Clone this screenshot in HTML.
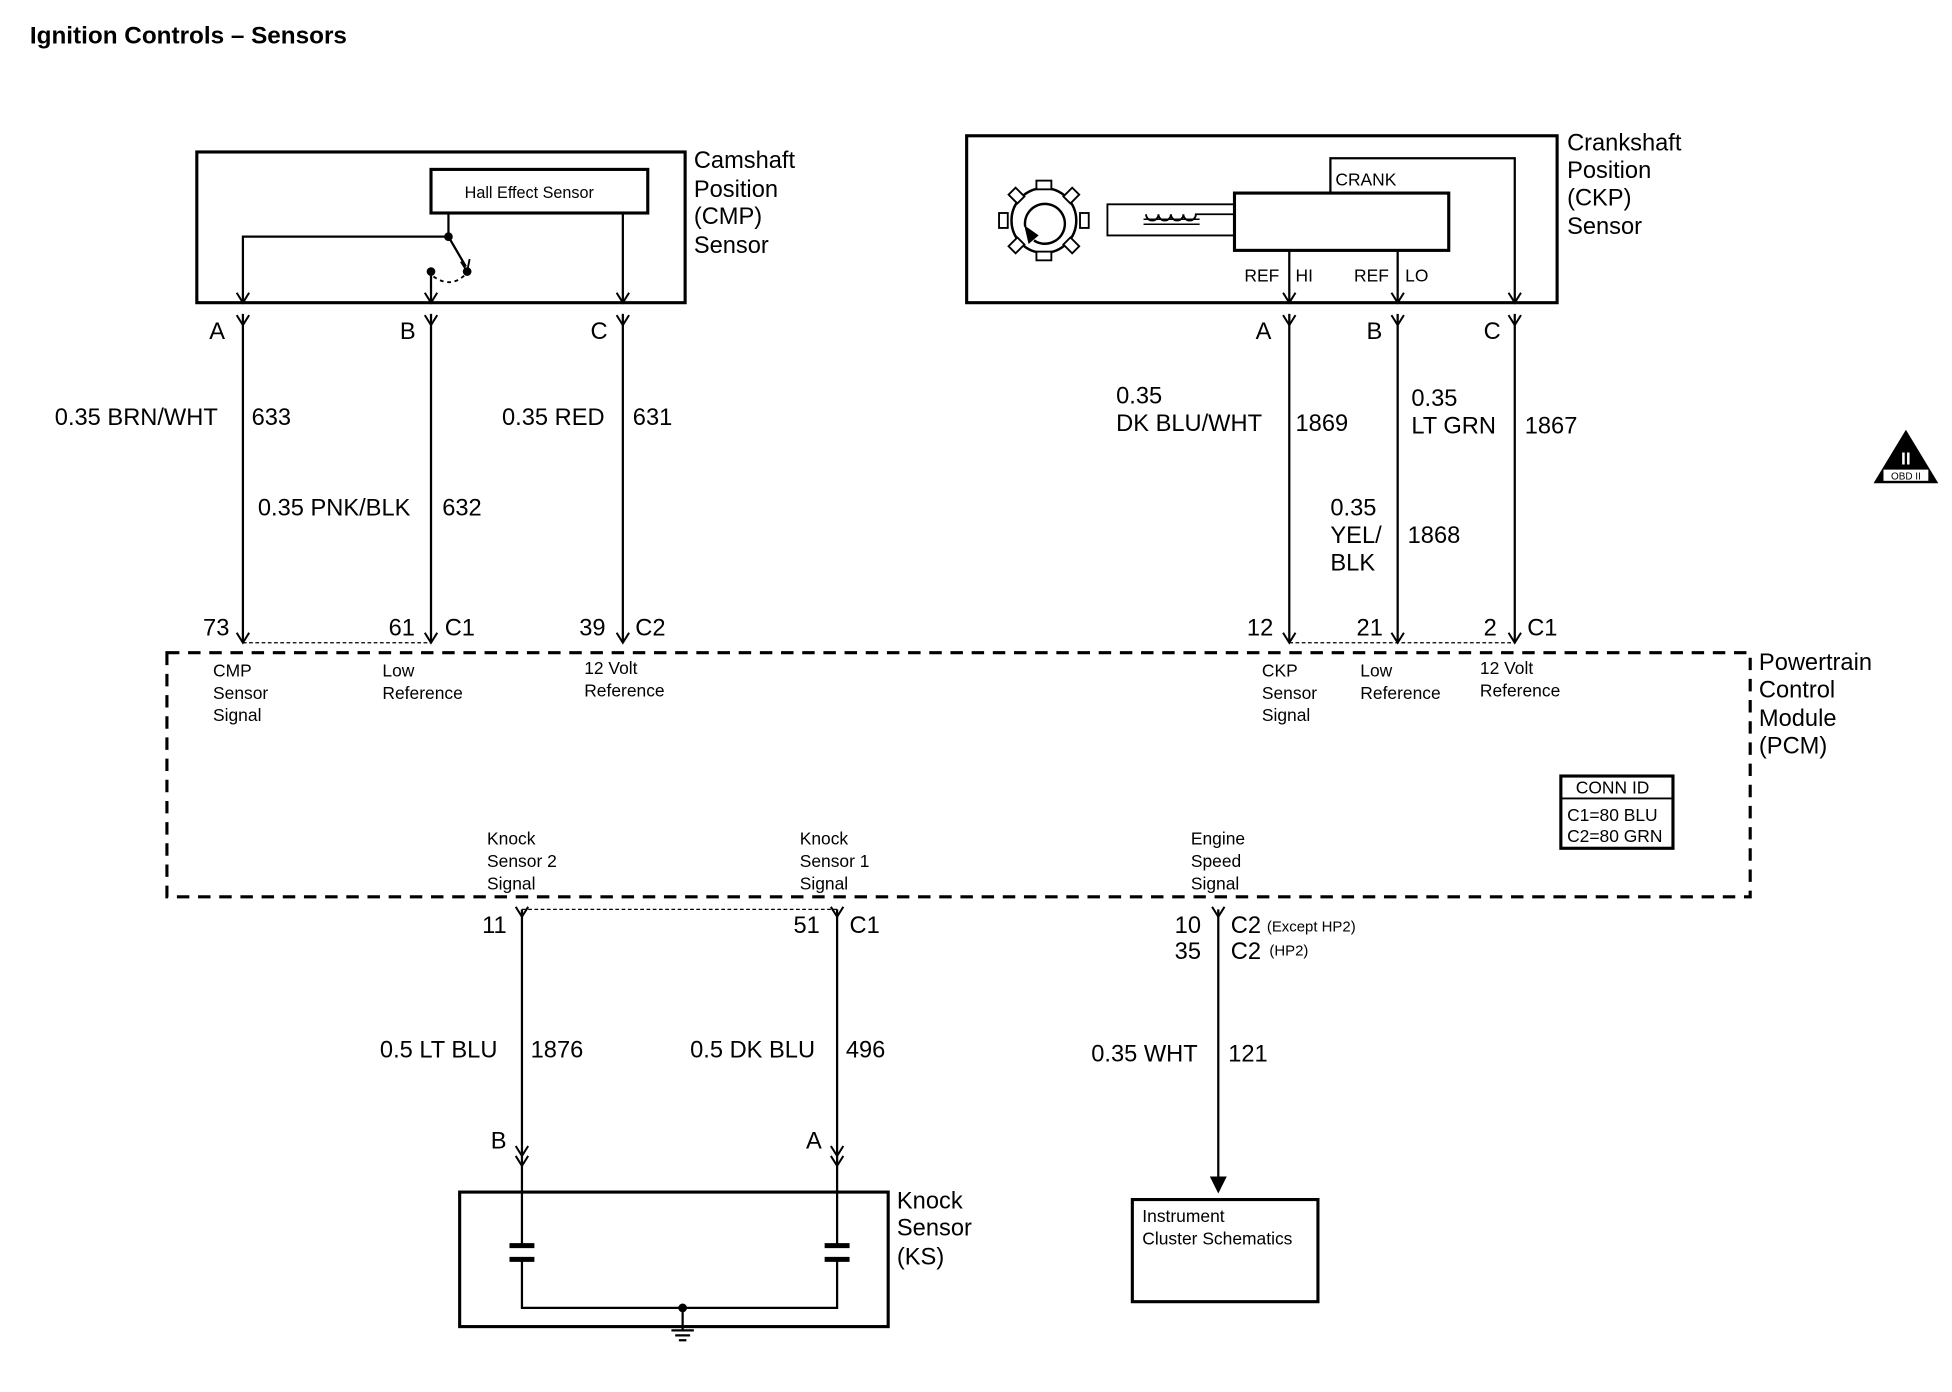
<!DOCTYPE html>
<html><head><style>html,body{margin:0;padding:0;background:#fff}svg{display:block}</style></head><body>
<svg width="1952" height="1392" viewBox="0 0 1567 1117.5" preserveAspectRatio="none" xmlns="http://www.w3.org/2000/svg" font-family="Liberation Sans, sans-serif" fill="none" stroke="#000">
<defs>
<g id="y"><path d="M-5,-6 L0,2 L5,-6" stroke-width="1.6"/></g>
</defs>
<text x="24" y="35" font-size="19.5" font-weight="bold" fill="#000" stroke="none">Ignition Controls – Sensors</text>

<!-- CMP sensor -->
<rect x="158" y="122" width="392" height="121" stroke-width="2.5"/>
<rect x="346" y="136" width="174" height="35" stroke-width="2.5"/>
<text x="373" y="159" font-size="13" fill="#000" stroke="none">Hall Effect Sensor</text>
<path d="M360,171 V190 H195 V243 M500,171 V243 M346,218 V243" stroke-width="1.8"/>
<path d="M360,190 L374,214" stroke-width="1.8"/>
<path d="M370,210 L375,218 L377,208" stroke-width="1.5"/>
<circle cx="360" cy="190" r="3" fill="#000"/><circle cx="375" cy="218" r="3" fill="#000"/><circle cx="346" cy="218" r="3" fill="#000"/>
<path d="M348,222 Q362,232 374,220" stroke-dasharray="3,3" stroke-width="1.5"/>
<use href="#y" x="195" y="241"/><use href="#y" x="346" y="241"/><use href="#y" x="500" y="241"/>
<g font-size="19" fill="#000" stroke="none">
<text x="557" y="135">Camshaft</text><text x="557" y="158">Position</text><text x="557" y="180">(CMP)</text><text x="557" y="203">Sensor</text>
<text x="168" y="272">A</text><text x="321" y="272">B</text><text x="474" y="272">C</text>
<text x="44" y="341">0.35 BRN/WHT</text><text x="202" y="341">633</text>
<text x="207" y="414">0.35 PNK/BLK</text><text x="355" y="414">632</text>
<text x="403" y="341">0.35 RED</text><text x="508" y="341">631</text>
<text x="163" y="510">73</text><text x="312" y="510">61</text><text x="357" y="510">C1</text>
<text x="465" y="510">39</text><text x="510" y="510">C2</text>
</g>
<path d="M195,252 V515 M346,252 V515 M500,252 V515" stroke-width="1.8"/>
<use href="#y" x="195" y="259"/><use href="#y" x="346" y="259"/><use href="#y" x="500" y="259"/>
<use href="#y" x="195" y="514"/><use href="#y" x="346" y="514"/><use href="#y" x="500" y="514"/>
<path d="M195,516 H346" stroke-dasharray="3,2" stroke-width="1"/>

<!-- CKP sensor -->
<rect x="776" y="109" width="474" height="134" stroke-width="2.5"/>
<rect x="991" y="155" width="172" height="46" stroke-width="2.5"/>
<path d="M1068,155 V127 H1216 V243 M1035,201 V243 M1122,201 V243" stroke-width="1.8"/>
<use href="#y" x="1035" y="241"/><use href="#y" x="1122" y="241"/><use href="#y" x="1216" y="241"/>
<path d="M991,164 H889 V189 H991" stroke-width="1.5"/>
<path d="M920,172 a5,5 0 0 0 10,0 a5,5 0 0 0 10,0 a5,5 0 0 0 10,0 a5,5 0 0 0 10,0 H991" stroke-width="1.5"/>
<path d="M918,176 H963 M918,180 H963" stroke-width="1.2"/>
<circle cx="838" cy="177" r="26" stroke-width="2"/>
<path d="M830,193 A16,16 0 1 0 823,182" stroke-width="2"/>
<path d="M823,182 L826,195 L833,189 Z" fill="#000"/>
<g stroke-width="1.5" fill="#fff">
<rect x="832" y="145" width="12" height="7"/><rect x="832" y="202" width="12" height="7"/>
<rect x="802" y="171" width="7" height="12"/><rect x="867" y="171" width="7" height="12"/>
<rect x="812" y="152" width="8" height="10" transform="rotate(-45 816 157)"/>
<rect x="856" y="152" width="8" height="10" transform="rotate(45 860 157)"/>
<rect x="812" y="192" width="8" height="10" transform="rotate(45 816 197)"/>
<rect x="856" y="192" width="8" height="10" transform="rotate(-45 860 197)"/>
</g>
<g font-size="14" fill="#000" stroke="none">
<text x="1072" y="149">CRANK</text>
<text x="999" y="226">REF</text><text x="1040" y="226">HI</text>
<text x="1087" y="226">REF</text><text x="1128" y="226">LO</text>
</g>
<g font-size="19" fill="#000" stroke="none">
<text x="1258" y="121">Crankshaft</text><text x="1258" y="143">Position</text><text x="1258" y="165">(CKP)</text><text x="1258" y="188">Sensor</text>
<text x="1008" y="272">A</text><text x="1097" y="272">B</text><text x="1191" y="272">C</text>
<text x="896" y="324">0.35</text><text x="896" y="346">DK BLU/WHT</text><text x="1040" y="346">1869</text>
<text x="1133" y="326">0.35</text><text x="1133" y="348">LT GRN</text><text x="1224" y="348">1867</text>
<text x="1068" y="414">0.35</text><text x="1068" y="436">YEL/</text><text x="1068" y="458">BLK</text><text x="1130" y="436">1868</text>
<text x="1001" y="510">12</text><text x="1089" y="510">21</text><text x="1191" y="510">2</text><text x="1226" y="510">C1</text>
</g>
<path d="M1035,252 V515 M1122,252 V515 M1216,252 V515" stroke-width="1.8"/>
<use href="#y" x="1035" y="259"/><use href="#y" x="1122" y="259"/><use href="#y" x="1216" y="259"/>
<use href="#y" x="1035" y="514"/><use href="#y" x="1122" y="514"/><use href="#y" x="1216" y="514"/>
<path d="M1035,516 H1216" stroke-dasharray="3,2" stroke-width="1"/>

<!-- OBD -->
<path d="M1530,345 L1504,388 H1556 Z" fill="#000" stroke="none"/>
<rect x="1512" y="377" width="36" height="9" fill="#fff" stroke="none"/>
<text x="1530" y="385" font-size="8" text-anchor="middle" fill="#000" stroke="none">OBD II</text>
<text x="1530" y="373" font-size="14" font-weight="bold" text-anchor="middle" fill="#fff" stroke="none">II</text>

<!-- PCM -->
<rect x="134" y="524" width="1271" height="196" stroke-width="2.5" stroke-dasharray="10,7"/>
<g font-size="14" fill="#000" stroke="none">
<text x="171" y="543">CMP</text><text x="171" y="561">Sensor</text><text x="171" y="579">Signal</text>
<text x="307" y="543">Low</text><text x="307" y="561">Reference</text>
<text x="469" y="541">12 Volt</text><text x="469" y="559">Reference</text>
<text x="1013" y="543">CKP</text><text x="1013" y="561">Sensor</text><text x="1013" y="579">Signal</text>
<text x="1092" y="543">Low</text><text x="1092" y="561">Reference</text>
<text x="1188" y="541">12 Volt</text><text x="1188" y="559">Reference</text>
<text x="391" y="678">Knock</text><text x="391" y="696">Sensor 2</text><text x="391" y="714">Signal</text>
<text x="642" y="678">Knock</text><text x="642" y="696">Sensor 1</text><text x="642" y="714">Signal</text>
<text x="956" y="678">Engine</text><text x="956" y="696">Speed</text><text x="956" y="714">Signal</text>
<text x="1265" y="637">CONN ID</text><text x="1258" y="659">C1=80 BLU</text><text x="1258" y="676">C2=80 GRN</text>
</g>
<rect x="1253" y="623" width="90" height="58" stroke-width="2.5"/>
<path d="M1253,641 H1343" stroke-width="1.5"/>
<g font-size="19" fill="#000" stroke="none">
<text x="1412" y="538">Powertrain</text><text x="1412" y="560">Control</text><text x="1412" y="583">Module</text><text x="1412" y="605">(PCM)</text>
<text x="387" y="749">11</text><text x="637" y="749">51</text><text x="682" y="749">C1</text>
<text x="943" y="749">10</text><text x="988" y="749">C2</text><text x="943" y="770">35</text><text x="988" y="770">C2</text>
<text x="305" y="849">0.5 LT BLU</text><text x="426" y="849">1876</text>
<text x="554" y="849">0.5 DK BLU</text><text x="679" y="849">496</text>
<text x="876" y="852">0.35 WHT</text><text x="986" y="852">121</text>
<text x="394" y="922">B</text><text x="647" y="922">A</text>
<text x="720" y="970">Knock</text><text x="720" y="992">Sensor</text><text x="720" y="1015">(KS)</text>
</g>
<g font-size="12" fill="#000" stroke="none"><text x="1017" y="748">(Except HP2)</text><text x="1019" y="767">(HP2)</text></g>

<!-- bottom wires -->
<path d="M419,730 V935 M672,730 V935 M978,730 V948" stroke-width="1.8"/>
<use href="#y" x="419" y="734"/><use href="#y" x="672" y="734"/><use href="#y" x="978" y="734"/>
<use href="#y" x="419" y="926"/><use href="#y" x="672" y="926"/>
<use href="#y" x="419" y="934"/><use href="#y" x="672" y="934"/>
<path d="M419,730 H672" stroke-dasharray="3,2" stroke-width="1"/>
<path d="M972,945 L978,957 L984,945 Z" fill="#000"/>

<!-- knock sensor -->
<rect x="369" y="957" width="344" height="108" stroke-width="2.5"/>
<path d="M419,935 V1000 M419,1011 V1050 H672 V1011 M672,935 V1000 M548,1050 V1068" stroke-width="1.8"/>
<path d="M409,1000 H429 M409,1011 H429 M662,1000 H682 M662,1011 H682" stroke-width="4"/>
<circle cx="548" cy="1050" r="3" fill="#000"/>
<path d="M539,1068 H557 M542,1072 H554 M545,1076 H551" stroke-width="1.8"/>

<!-- instrument cluster -->
<rect x="909" y="963" width="149" height="82" stroke-width="2.5"/>
<g font-size="14" fill="#000" stroke="none"><text x="917" y="981">Instrument</text><text x="917" y="999">Cluster Schematics</text></g>
</svg>
</body></html>
